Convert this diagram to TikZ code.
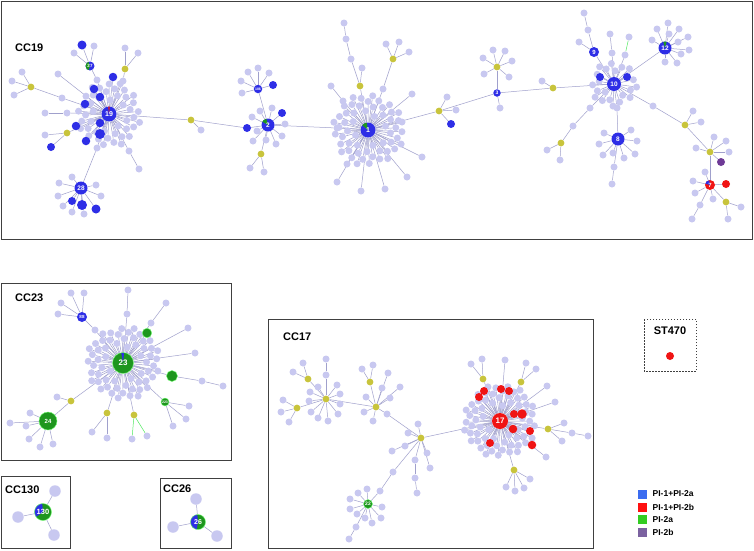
\documentclass[tikz,border=0pt]{standalone}
\usepackage{fontspec}
\setmainfont{Liberation Sans}
\usetikzlibrary{calc}
\pgfdeclarelayer{bg}\pgfdeclarelayer{fg}
\pgfsetlayers{bg,main,fg}
\definecolor{leafc}{HTML}{C8C8F0}
\definecolor{edgec}{HTML}{A0A0CC}
\definecolor{bluec}{HTML}{2E2EE6}
\definecolor{yelc}{HTML}{C8C43C}
\definecolor{greenc}{HTML}{1E961E}
\definecolor{redc}{HTML}{F01414}
\definecolor{purc}{HTML}{6E3A96}
\definecolor{boxc}{HTML}{404040}
\definecolor{lgblue}{HTML}{3B6CF0}
\definecolor{lgred}{HTML}{FF1010}
\definecolor{lggreen}{HTML}{33CC22}
\definecolor{lgpur}{HTML}{7B62A0}
\tikzset{
  leaf/.style={circle,fill=leafc,inner sep=0pt,minimum size=7pt},
  bigleaf/.style={circle,fill=leafc,inner sep=0pt,minimum size=11.5pt},
  yn/.style={circle,fill=yelc,inner sep=0pt,minimum size=6.8pt},
  bn/.style={circle,fill=bluec,inner sep=0pt,minimum size=#1},
  bn/.default=8.5pt,
  rn/.style={circle,fill=redc,inner sep=0pt,minimum size=#1},
  rn/.default=8pt,
  gn/.style={circle,fill=greenc,draw=green!55,line width=0.4pt,inner sep=0pt,minimum size=#1},
  gn/.default=9.5pt,
  pn/.style={circle,fill=purc,inner sep=0pt,minimum size=8pt},
  hub/.style={circle,inner sep=0pt,minimum size=#1,text=white},
  fs/.style={font=\bfseries\fontsize{#1}{#1}\selectfont},
  sl/.style n args={3}{path picture={\fill[#3] (path picture bounding box.center) -- ++(#1:12pt) arc[start angle=#1,end angle=#2,radius=12pt] -- cycle;}},
  lnk/.style={draw=edgec,line width=0.5pt},
  glnk/.style={draw=green!60!leafc,line width=0.5pt},
  frame/.style={draw=boxc,line width=0.9pt},
  title/.style={font=\bfseries\fontsize{11}{11}\selectfont,anchor=west,inner sep=0pt},
  sq/.style={rectangle,inner sep=0pt,minimum size=9pt},
  lgt/.style={font=\bfseries\fontsize{8.5}{8.5}\selectfont,anchor=west,inner sep=0pt}
}
\newcommand\alledges{}
\newcommand\drawedge[2]{\draw[lnk] (#1) -- (#2);}
\newcommand\drawgedge[2]{\draw[glnk] (#1) -- (#2);}
\newcommand\myln[2]{\xdef\alledges{\unexpanded\expandafter{\alledges}\noexpand\drawedge{#1}{#2}}}
\newcommand\mygln[2]{\xdef\alledges{\unexpanded\expandafter{\alledges}\noexpand\drawgedge{#1}{#2}}}
\newcommand\lvs[3]{\foreach \x/\y [count=\k] in {#3}{\node[leaf] (#1#2\k) at (\x,\y) {}; \myln{#1}{#1#2\k}}}
\newcommand\phyl[5]{\foreach \i in {1,...,#2}{%
  \pgfmathsetmacro\ang{#5+\i*137.508}%
  \pgfmathsetmacro\rad{#3+#4*sqrt(\i)}%
  \node[leaf] (#1p\i) at ($(#1)+(\ang:\rad)$) {};%
  \myln{#1}{#1p\i}}}
\newcommand\chain[1]{\foreach \a/\b in {#1}{\myln{\a}{\b}}}
\begin{document}
\begin{tikzpicture}[x=1pt,y=-1pt]
\useasboundingbox (0,0) rectangle (754,550);
\begin{pgfonlayer}{bg}\fill[white] (0,0) rectangle (754,550);\end{pgfonlayer}

% ================= frames =================
\draw[frame] (1,1) rectangle (752,239);
\draw[frame] (1,283) rectangle (231,460);
\draw[frame] (1,476) rectangle (70,548);
\draw[frame] (160,478) rectangle (231,548);
\draw[frame] (268,319) rectangle (593,548);
\draw[boxc,line width=0.7pt,dash pattern=on 1.5pt off 1.5pt] (644,319) rectangle (696,371);
\node[title] (t19) at (15,48) {CC19};
\node[title] (t23) at (15,298) {CC23};
\node[title] (t130) at (5,490) {CC130};
\node[title] (t26) at (163,489) {CC26};
\node[title] (t17) at (283,337) {CC17};
\node[title,anchor=center] (t470) at (670,331) {ST470};

% ================= coloured nodes =================
\begin{pgfonlayer}{fg}
\node[hub=15pt,fill=bluec,sl={84}{96}{redc},fs=7] (n19) at (109,114) {19};
\node[hub=9pt,fill=bluec,sl={110}{250}{greenc},fs=4.5] (n27) at (90,66) {27};
\node[bn=9pt] (b27a) at (82,45) {};
\node[bn] (b19a) at (113,77) {};
\node[bn] (b19b) at (94,89) {};
\node[bn] (b19c) at (100,97) {};
\node[bn] (b19d) at (85,104) {};
\node[bn] (b19e) at (76,126) {};
\node[bn] (b19f) at (100,123) {};
\node[bn=10pt] (b19g) at (100,134) {};
\node[bn] (b19h) at (86,141) {};
\node[bn=8pt] (b19i) at (51,147) {};
\node[yn] (y19a) at (125,69) {};
\node[yn] (y19b) at (31,87) {};
\node[yn] (y19c) at (67,133) {};
\node[yn] (y19d) at (191,120) {};
\node[hub=13pt,fill=bluec,fs=6.5] (n28) at (81,188) {28};
\node[bn=8pt] (b28a) at (72,201) {};
\node[bn=10pt] (b28b) at (82,205) {};
\node[bn=9pt] (b28c) at (96,209) {};
\node[hub=13pt,fill=bluec,sl={105}{150}{greenc},fs=6.5] (n2) at (268,125) {2};
\node[bn=8pt] (b2a) at (282,113) {};
\node[bn=8pt] (b2b) at (247,128) {};
\node[yn] (y2a) at (261,154) {};
\node[hub=8.5pt,fill=bluec,fs=3.5] (n186) at (258,89) {186};
\node[bn=8pt] (b186a) at (273,85) {};
\node[hub=15pt,fill=bluec,sl={100}{140}{greenc},fs=7] (n1) at (368,130) {1};
\node[yn] (y1a) at (360,86) {};
\node[yn] (y1b) at (393,59) {};
\node[yn] (y1c) at (439,111) {};
\node[bn=8pt] (b1a) at (451,124) {};
\node[hub=7.5pt,fill=bluec,fs=5] (n3) at (497,93) {3};
\node[yn] (y3a) at (497,67) {};
\node[yn] (y3b) at (553,88) {};
\node[hub=14pt,fill=bluec,fs=6.5] (n10) at (614,84) {10};
\node[bn=8pt] (b10a) at (600,77) {};
\node[bn=8pt] (b10b) at (627,77) {};
\node[hub=10pt,fill=bluec,fs=6] (n9) at (594,52) {9};
\node[hub=13pt,fill=bluec,sl={75}{105}{greenc},fs=6.5] (n12) at (665,48) {12};
\node[hub=13pt,fill=bluec,fs=6.5] (n8) at (618,139) {8};
\node[yn] (y10a) at (561,143) {};
\node[yn] (y10b) at (685,125) {};
\node[yn] (y10c) at (710,152) {};
\node[pn] (p10) at (721,162) {};
\node[hub=10pt,fill=redc,sl={100}{165}{bluec},fs=6] (n7) at (710,185) {7};
\node[rn] (r7a) at (726,184) {};
\node[yn] (y7a) at (726,202) {};
% CC23
\node[hub=21pt,fill=greenc,draw=green!55,line width=0.4pt,sl={84}{100}{bluec},fs=8] (n23) at (123,363) {23};
\node[hub=10pt,fill=bluec,fs=4.5] (n88) at (82,317) {88};
\node[gn=9.5pt] (g23a) at (147,333) {};
\node[gn=11pt] (g23b) at (172,376) {};
\node[hub=8pt,fill=greenc,draw=green!55,line width=0.4pt,fs=3.5] (n223) at (165,402) {223};
\node[hub=18pt,fill=greenc,draw=green!55,line width=0.4pt,fs=6] (n24) at (48,421) {24};
\node[yn] (y23a) at (71,401) {};
\node[yn] (y23b) at (107,413) {};
\node[yn] (y23c) at (134,415) {};
% CC130 / CC26
\node[hub=17pt,fill=greenc,draw=green!55,line width=0.4pt,sl={95}{215}{bluec},fs=7.5] (n130) at (43,512) {130};
\node[hub=15pt,fill=greenc,draw=green!55,line width=0.4pt,sl={95}{260}{bluec},fs=7] (n26) at (198,522) {26};
% CC17
\node[hub=16pt,fill=redc,fs=8] (n17) at (500,421) {17};
\node[rn] (r17a) at (484,391) {};
\node[rn] (r17b) at (501,389) {};
\node[rn] (r17c) at (509,391) {};
\node[rn] (r17d) at (479,397) {};
\node[rn] (r17e) at (514,414) {};
\node[rn=9.5pt] (r17f) at (522,414) {};
\node[rn=8.5pt] (r17g) at (513,429) {};
\node[rn] (r17h) at (530,431) {};
\node[rn] (r17i) at (490,443) {};
\node[rn=8.5pt] (r17j) at (532,445) {};
\node[yn] (y17a) at (483,379) {};
\node[yn] (y17b) at (521,382) {};
\node[yn] (y17c) at (548,429) {};
\node[yn] (y17d) at (514,470) {};
\node[yn] (y17e) at (421,438) {};
\node[yn] (y17f) at (376,407) {};
\node[yn] (y17g) at (370,382) {};
\node[yn] (y17h) at (326,399) {};
\node[yn] (y17i) at (308,379) {};
\node[yn] (y17j) at (297,408) {};
\node[hub=9pt,fill=greenc,draw=green!55,line width=0.4pt,fs=5] (n22) at (368,504) {22};
\node[rn] (r470) at (670,356) {};
\end{pgfonlayer}

% ================= CC19 leaves and links =================
\phyl{n19}{45}{9}{3.5}{0}
\node[leaf] (l27c) at (97,80) {};
\chain{n19/l27c,l27c/n27,n27/b27a}
\lvs{n27}{a}{94/46,74/53}
\foreach \b in {b19a,b19b,b19c,b19d,b19e,b19f,b19g,b19h} {\myln{n19}{\b}}
\node[leaf] (l19a) at (123,81) {};
\chain{n19/l19a,l19a/y19a}
\lvs{y19a}{a}{125/48,138/53}
\node[leaf] (l19b) at (62,98) {};
\chain{n19/l19b,l19b/y19b}
\lvs{y19b}{a}{22/72,12/81,14/95}
\chain{n19/y19c,y19c/b19i}
\lvs{y19c}{a}{45/135}
\node[leaf] (l19c) at (129,151) {};
\node[leaf] (l19d) at (139,169) {};
\node[leaf] (l19e) at (67,113) {};
\node[leaf] (l19f) at (45,113) {};
\node[leaf] (l19g) at (58,74) {};
\node[leaf] (l19h) at (97,148) {};
\chain{n19/l19c,l19c/l19d,n19/l19e,l19e/l19f,n19/l19g,n19/l19h,l19h/n28}
\lvs{n28}{a}{72/177,59/183,58/196,63/206,72/212,84/214,96/185,101/196}
\chain{n28/b28a,n28/b28b,n28/b28c}
\chain{n19/y19d,y19d/b2b,b2b/n2}
\lvs{y19d}{a}{201/130}
\lvs{n2}{a}{260/111,272/108,252/117,257/131,253/141,266/140,276/144,282/136,285/124}
\chain{n2/b2a,n2/y2a,n2/n186,n186/b186a}
\lvs{y2a}{a}{250/168,264/172}
\lvs{n186}{a}{248/72,258/68,269/73,241/81,242/93}
\node[leaf] (l1a) at (337,128) {};
\chain{n2/l1a,l1a/n1}
\phyl{n1}{55}{10}{3.5}{20}
\node[leaf] (l1b) at (351,59) {};
\node[leaf] (l1c) at (346,39) {};
\node[leaf] (l1d) at (344,23) {};
\node[leaf] (l1e) at (343,101) {};
\node[leaf] (l1f) at (331,86) {};
\node[leaf] (l1g) at (383,89) {};
\chain{n1/y1a,y1a/l1b,l1b/l1c,l1c/l1d,n1/l1e,l1e/l1f,n1/l1g,l1g/y1b}
\lvs{y1a}{a}{362/68}
\lvs{y1b}{a}{386/44,399/42,409/52}
\lvs{n1}{o}{412/94,402/122,422/157,407/177,385/189,361/191,337/182,347/164}
\chain{n1/y1c,y1c/b1a,y1c/n3}
\lvs{y1c}{a}{447/97,456/110}
\chain{n3/y3a,n3/y3b,y3b/n10}
\lvs{y3a}{a}{493/50,505/51,512/61,483/58,484/74,509/77}
\lvs{n3}{a}{500/108}
\lvs{y3b}{a}{542/81}
\phyl{n10}{22}{9}{3.0}{0}
\node[leaf] (l10a) at (612,53) {};
\node[leaf] (l10b) at (610,34) {};
\node[leaf] (l10c) at (625,55) {};
\node[leaf] (l10d) at (629,37) {};
\chain{n10/b10a,n10/b10b,n10/l10a,l10a/l10b,n10/l10c}
\mygln{l10c}{l10d}
\node[leaf] (l9a) at (588,30) {};
\node[leaf] (l9b) at (584,13) {};
\chain{n10/n9,n9/l9a,l9a/l9b,n10/n12}
\lvs{n9}{a}{579/42}
\lvs{n12}{a}{657/29,668/23,679/29,688/37,689/50,681/54,677/63,665/62,652/40,669/34,678/42}
\node[leaf] (l10e) at (617,108) {};
\node[leaf] (l8a) at (614,167) {};
\node[leaf] (l8b) at (612,184) {};
\chain{n10/l10e,l10e/n8,n8/l8a,l8a/l8b}
\lvs{n8}{a}{604/133,599/144,603/155,613/153,624/158,635/154,637/141,631/130}
\node[leaf] (l10f) at (590,108) {};
\node[leaf] (l10g) at (573,126) {};
\chain{n10/l10f,l10f/l10g,l10g/y10a}
\lvs{y10a}{a}{547/150,560/160}
\node[leaf] (l10h) at (653,106) {};
\chain{n10/l10h,l10h/y10b,y10b/y10c,y10c/p10,y10c/n7}
\lvs{y10b}{a}{693/111,701/122}
\lvs{y10c}{a}{696/148,714/137,726/141,729/152}
\lvs{n7}{a}{705/172,693/181,695/193,713/199}
\node[leaf] (l7a) at (700,205) {};
\node[leaf] (l7b) at (692,219) {};
\chain{n7/l7a,l7a/l7b,n7/r7a,n7/y7a}
\lvs{y7a}{a}{741/207,728/219}

% ================= CC23 =================
\phyl{n23}{60}{12}{3.2}{10}
\node[leaf] (l23a) at (95,330) {};
\node[leaf] (l23b) at (202,381) {};
\node[leaf] (l23c) at (223,386) {};
\node[leaf] (l23d) at (127,314) {};
\node[leaf] (l23e) at (128,290) {};
\node[leaf] (l23f) at (151,323) {};
\node[leaf] (l23g) at (166,303) {};
\chain{n23/l23a,l23a/n88,n23/g23a,n23/g23b,g23b/l23b,l23b/l23c,n23/n223,n23/l23d,l23d/l23e,n23/l23f,l23f/l23g}
\lvs{n88}{a}{71/293,84/293,61/303,58/314}
\lvs{n223}{a}{189/406,186/419,173/426}
\lvs{n23}{o}{188/328,195/353}
\chain{n23/y23a,y23a/n24,n23/y23b,n23/y23c}
\lvs{y23a}{a}{57/397}
\lvs{n24}{a}{30/413,26/426,10/423,29/439,40/447,53/444}
\lvs{y23b}{a}{92/432,107/438}
\node[leaf] (l23h) at (132,439) {};
\node[leaf] (l23i) at (147,436) {};
\mygln{y23c}{l23h}
\mygln{y23c}{l23i}

% ================= CC130 / CC26 =================
\node[bigleaf] (c130a) at (55,491) {};
\node[bigleaf] (c130b) at (18,517) {};
\node[bigleaf] (c130c) at (54,535) {};
\node[bigleaf] (c26a) at (196,499) {};
\node[bigleaf] (c26b) at (173,527) {};
\node[bigleaf] (c26c) at (217,536) {};
\chain{n130/c130a,n130/c130b,n130/c130c,n26/c26a,n26/c26b,n26/c26c}

% ================= CC17 =================
\phyl{n17}{65}{11}{3.2}{5}
\foreach \r in {r17a,r17b,r17c,r17d,r17e,r17f,r17g,r17h,r17i,r17j} {\myln{n17}{\r}}
\chain{n17/y17a,n17/y17b,n17/y17c,n17/y17d,n17/y17e}
\lvs{y17a}{a}{471/364,482/359}
\lvs{y17b}{a}{526/363,536/369}
\lvs{n17}{o}{505/360,547/386,555/402,546/457}
\lvs{y17c}{a}{564/423,562/441}
\node[leaf] (l17a) at (572,433) {};
\node[leaf] (l17b) at (588,436) {};
\chain{y17c/l17a,l17a/l17b}
\lvs{y17d}{a}{506/487,515/491,524/488,530/479}
\lvs{y17e}{a}{418/424,408/433,405/446,392/451,427/453,430/468}
\node[leaf] (l17c) at (415,460) {};
\node[leaf] (l17d) at (415,478) {};
\node[leaf] (l17e) at (417,493) {};
\node[leaf] (l17f) at (393,472) {};
\node[leaf] (l17g) at (380,491) {};
\chain{y17e/l17c,l17c/l17d,l17d/l17e,y17e/l17f,l17f/l17g,l17g/n22}
\lvs{n22}{a}{358/493,367/489,350/499,350/509,357/514,365/518,372/523,381/518,382/507}
\node[leaf] (l22a) at (356,527) {};
\node[leaf] (l22b) at (349,539) {};
\chain{n22/l22a,l22a/l22b}
\node[leaf] (l17h) at (387,414) {};
\chain{y17e/l17h,l17h/y17f,y17f/y17g,y17f/y17h,y17h/y17i,y17h/y17j}
\lvs{y17f}{a}{388/373,382/388,400/387,390/398,366/397,364/412,373/421}
\lvs{y17g}{a}{362/369,373/365}
\lvs{y17h}{a}{318/387,310/392,309/401,311/412,318/418,328/421,338/414,340/404,340/394,337/385}
\node[leaf] (l17i) at (326,375) {};
\node[leaf] (l17j) at (326,359) {};
\chain{y17h/l17i,l17i/l17j}
\lvs{y17i}{a}{303/363,293/372}
\lvs{y17j}{a}{283/400,281/412,289/422}

% ================= all connectors, behind the nodes =================
\begin{pgfonlayer}{bg}
\alledges
\end{pgfonlayer}

% ================= legend =================
\node[sq,fill=lgblue] (lg1) at (642.5,494) {};
\node[sq,fill=lgred] (lg2) at (642.5,507) {};
\node[sq,fill=lggreen] (lg3) at (642.5,519.5) {};
\node[sq,fill=lgpur] (lg4) at (642.5,532) {};
\node[lgt] (lg1t) at (652.5,494) {PI-1+PI-2a};
\node[lgt] (lg2t) at (652.5,507) {PI-1+PI-2b};
\node[lgt] (lg3t) at (652.5,519.5) {PI-2a};
\node[lgt] (lg4t) at (652.5,532) {PI-2b};
\end{tikzpicture}
\end{document}
